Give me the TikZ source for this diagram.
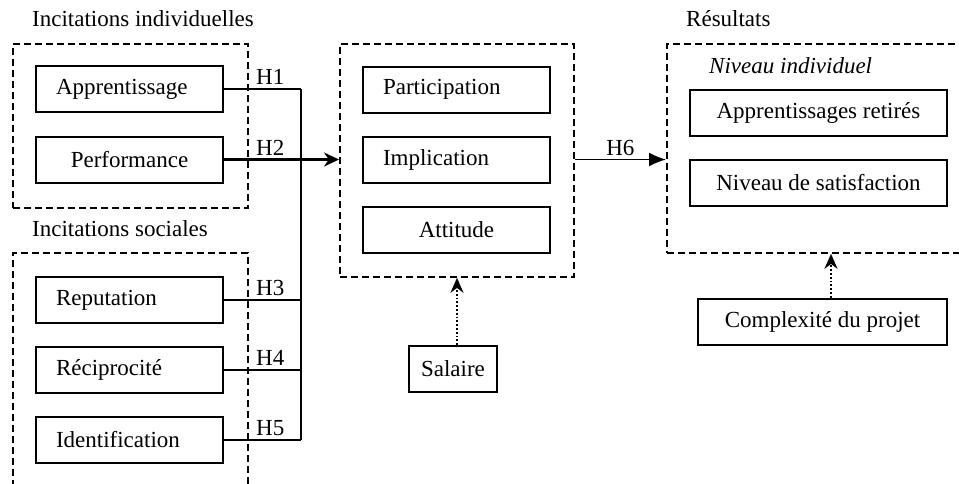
\documentclass[tikz,border=0pt]{standalone}
\usepackage{fontspec}
\setmainfont{Liberation Serif}
\usetikzlibrary{arrows.meta,positioning}

\begin{document}
\begin{tikzpicture}[x=1pt,y=-1pt,
    font=\fontsize{23}{27}\selectfont,
    box/.style={draw, line width=2pt, minimum width=187pt, minimum height=46pt, inner xsep=20pt, inner ysep=0pt},
    lbox/.style={box, text width=147pt, align=left},
    wbox/.style={box, minimum width=257pt},
    grp/.style={draw, line width=1.8pt, dash pattern=on 7pt off 4pt, anchor=north west, inner sep=0pt},
    hyp/.style={line width=2.2pt},
    hlab/.style={above, inner sep=3pt},
    mod/.style={line width=1.8pt, dotted, -{Stealth[length=15pt,width=13pt]}}
]
    \useasboundingbox (0,0) rectangle (959,483);
    \clip (0,0) rectangle (959,483);

    % Group frames
    \node[grp, minimum width=235pt, minimum height=164pt] (indiv) at (12,43) {};
    \node[grp, minimum width=235pt, minimum height=260pt] (soc) at (12,252) {};
    \node[grp, minimum width=234pt, minimum height=233pt] (engag) at (339,43) {};
    \node[grp, minimum width=320pt, minimum height=209pt] (result) at (666,43) {};

    % Group titles
    \node[anchor=base west, inner sep=0pt] (tIndiv) at (32,26) {Incitations individuelles};
    \node[anchor=base west, inner sep=0pt] (tSoc) at (32,236) {Incitations sociales};
    \node[anchor=base west, inner sep=0pt] (tRes) at (686,26) {Résultats};
    \node[anchor=base west, inner sep=0pt, font=\fontsize{23}{27}\selectfont\itshape] (tNiv) at (709,73) {Niveau individuel};

    % Individual incentives
    \node[lbox] (appr) at (129.5,89) {Apprentissage};
    \node[box] (perf) at (129.5,159.5) {Performance};

    % Social incentives
    \node[lbox] (repu) at (129.5,300) {Reputation};
    \node[lbox] (reci) at (129.5,370) {Réciprocité};
    \node[lbox] (iden) at (129.5,440) {Identification};

    % Engagement
    \node[lbox] (parti) at (456.5,89.5) {Participation};
    \node[lbox] (impl) at (456.5,159.5) {Implication};
    \node[box] (atti) at (456.5,229.5) {Attitude};

    % Outcomes
    \node[wbox] (appRet) at (818.5,112.5) {Apprentissages retirés};
    \node[wbox] (satis) at (818.5,182.5) {Niveau de satisfaction};

    % Moderators
    \node[box, minimum width=249pt] (compl) at (822.5,321.5) {Complexité du projet};
    \node[box, minimum width=88pt, inner xsep=6pt] (sal) at (453,369) {Salaire};

    % Hypotheses
    \coordinate (bus) at (301,0);
    \draw[hyp] (appr.east) -- node[hlab, pos=0.6] {H1} (appr.east -| bus);
    \draw[hyp] (perf.east) -- node[hlab, pos=0.6] {H2} (perf.east -| bus);
    \draw[hyp] (repu.east) -- node[hlab, pos=0.6] {H3} (repu.east -| bus);
    \draw[hyp] (reci.east) -- node[hlab, pos=0.6] {H4} (reci.east -| bus);
    \draw[hyp] (iden.east) -- node[hlab, pos=0.6] {H5} (iden.east -| bus);
    \draw[hyp] (appr.east -| bus) -- (iden.east -| bus);
    \draw[hyp, line width=2.8pt, -{Stealth[length=15pt,width=14pt]}] (perf.east -| bus) -- (perf.east -| engag.west);
    \draw[hyp, line width=1.6pt, -{Latex[length=17pt,width=14pt]}] (impl.east -| engag.east) -- node[hlab] {H6} (impl.east -| result.west);

    % Moderating effects
    \draw[mod] (sal.north -| 457,0) -- (engag.south -| 457,0);
    \draw[mod] (compl.north -| 831,0) -- (result.south -| 831,0);
\end{tikzpicture}
\end{document}
